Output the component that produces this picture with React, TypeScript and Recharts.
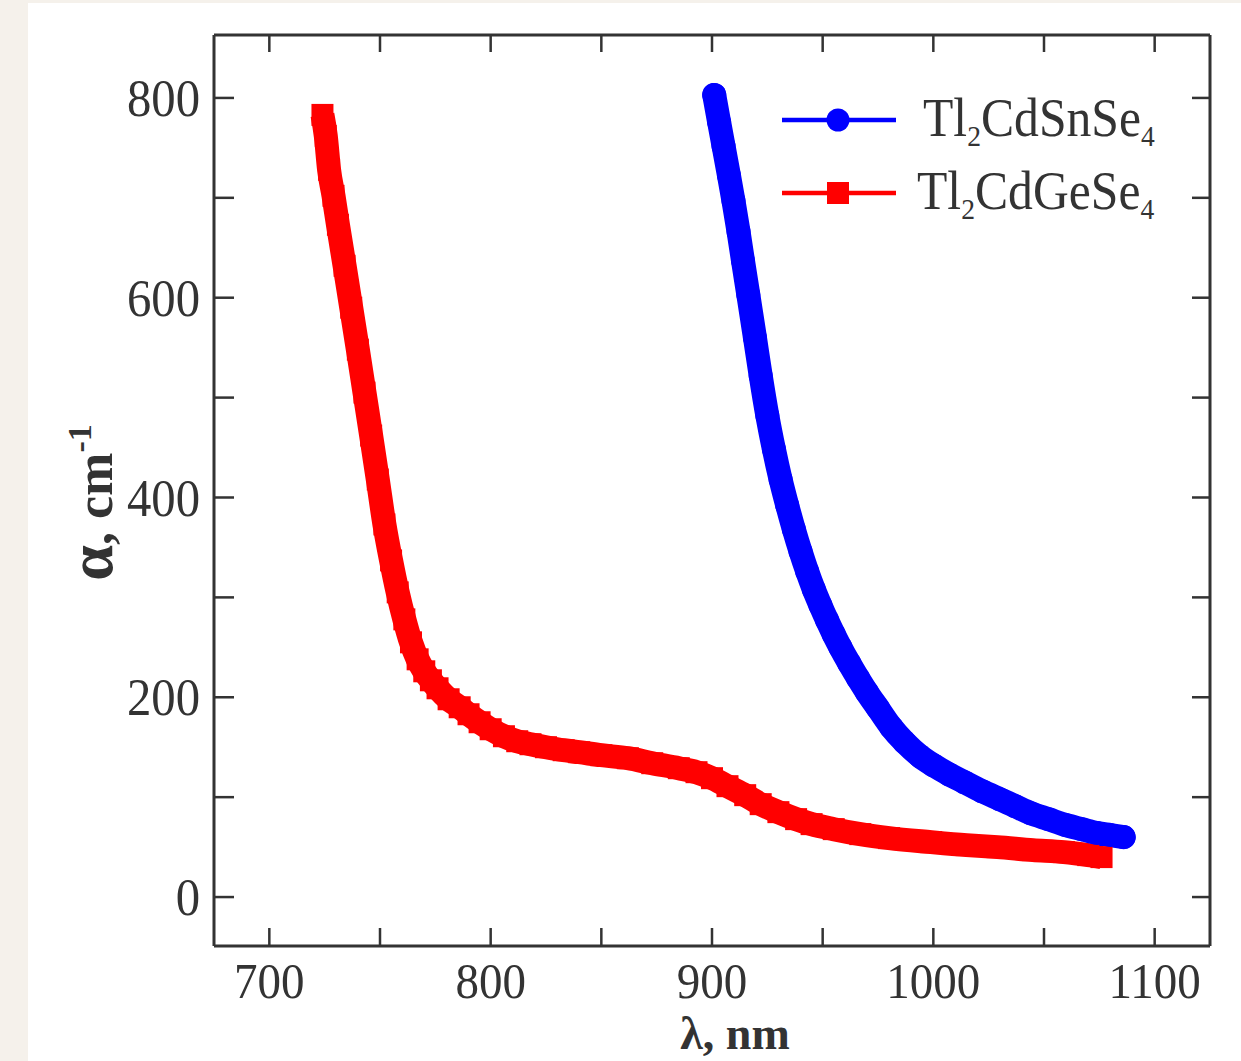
import { LineChart, Line, XAxis, YAxis, Legend } from 'recharts';

// Tl2CdGeSe4 (red squares)
const geLambda = [
  724, 725.5, 727, 729, 731, 734, 737, 740, 743, 746, 749, 752, 755, 758, 761, 764, 767, 770, 773, 776,
  781, 786, 790, 795, 800, 806, 812, 818, 825, 833, 840, 850, 862, 873, 885, 893, 900, 907, 915, 922,
  930, 938, 945, 955, 967, 980, 999, 1015, 1029, 1045, 1059, 1070, 1076,
];
const geAlpha = [
  783, 762, 728, 702, 673, 632, 590, 548, 505, 462, 418, 373, 337, 305, 278, 255, 238, 226, 217, 209,
  198, 190, 183, 175, 168, 161, 156, 153, 150, 147, 145, 142, 139, 134, 129, 125, 119, 111, 102, 93,
  85, 78, 73, 68, 63, 59, 55, 52, 50, 47, 45, 42, 40,
];

// Tl2CdSnSe4 (blue circles)
const snLambda = [
  901, 903.2, 905.2, 907.7, 909.7, 912, 914, 916.4, 919.4, 922, 925, 928, 931, 934, 937, 940, 943, 946,
  949, 952, 955, 958, 962, 966, 970, 975, 981, 987, 994, 1000, 1007, 1014, 1022, 1030, 1037, 1044, 1052,
  1060, 1067, 1074, 1080, 1086,
];
const snAlpha = [
  803, 776, 752, 722, 697, 666, 637, 603, 560, 522, 482, 448, 418, 392, 368, 346, 326, 308,
  292, 277, 263, 250, 234, 219, 205, 189, 170, 155, 141, 132, 123, 115, 106, 98, 91, 84, 78,
  72, 68, 64, 62, 60,
];

const xTicks = [700, 750, 800, 850, 900, 950, 1000, 1050, 1100];
const xLabels = [700, 800, 900, 1000, 1100];
const yTicks = [0, 100, 200, 300, 400, 500, 600, 700, 800];
const yLabels = [0, 200, 400, 600, 800];
const xDomain = [675, 1125];
const yDomain = [-49, 863];

const snName = 'Tl2CdSnSe4';
const geName = 'Tl2CdGeSe4';

const geData = geLambda.map((x, i) => ({ x, y: geAlpha[i] }));
const snData = snLambda.map((x, i) => ({ x, y: snAlpha[i] }));

const serif = '"Liberation Serif", "Times New Roman", serif';
const ink = '#333';
const RED = '#ff0000';
const BLUE = '#0000ff';

// digits become subscripts
function formula(name: string, subSize: number) {
  const parts = name.split(/(\d)/).filter(Boolean);
  let shifted = false;
  return parts.map((p, i) => {
    if (/\d/.test(p)) {
      shifted = true;
      return (
        <tspan key={i} fontSize={subSize} dy={10}>
          {p}
        </tspan>
      );
    }
    const dy = shifted ? -10 : 0;
    shifted = false;
    return (
      <tspan key={i} dy={dy}>
        {p}
      </tspan>
    );
  });
}

const BottomTick = ({ x, y, payload }: any) => (
  <g>
    <line x1={x} y1={y} x2={x} y2={y - 18} stroke={ink} strokeWidth={2.5} />
    {xLabels.includes(payload.value) && (
      <text
        transform={`translate(${x},${y + 52}) scale(0.94,1)`}
        textAnchor="middle"
        fontFamily={serif}
        fontSize={50}
        fill={ink}
      >
        {payload.value}
      </text>
    )}
  </g>
);

const TopTick = ({ x, y }: any) => (
  <line x1={x} y1={y} x2={x} y2={y + 17} stroke={ink} strokeWidth={2.5} />
);

const LeftTick = ({ x, y, payload }: any) => (
  <g>
    <line x1={x} y1={y} x2={x + 20} y2={y} stroke={ink} strokeWidth={2.5} />
    {yLabels.includes(payload.value) && (
      <text
        transform={`translate(${x - 14},${y}) scale(0.92,1)`}
        dy="0.34em"
        textAnchor="end"
        fontFamily={serif}
        fontSize={53}
        fill={ink}
      >
        {payload.value}
      </text>
    )}
  </g>
);

const RightTick = ({ x, y }: any) => (
  <line x1={x} y1={y} x2={x - 18} y2={y} stroke={ink} strokeWidth={2.5} />
);

const XTitle = (props: any) => {
  const { x, y, width } = props.viewBox;
  return (
    <text
      x={x + width / 2 + 23}
      y={y + 103}
      textAnchor="middle"
      fontFamily={serif}
      fontWeight="bold"
      fontSize={46}
      fill={ink}
    >
      λ, nm
    </text>
  );
};

const YTitle = (props: any) => {
  const { x, y, height } = props.viewBox;
  return (
    <text
      transform={`translate(${x - 101},${y + height / 2 + 12}) rotate(-90)`}
      textAnchor="middle"
      fontFamily={serif}
      fontWeight="bold"
      fontSize={52}
      fill={ink}
    >
      <tspan fontSize={64}>α</tspan>
      <tspan>, cm</tspan>
      <tspan fontSize={34} dy={-21}>
        -1
      </tspan>
    </text>
  );
};

const SquareDot = ({ cx, cy }: any) =>
  cx == null ? null : <rect x={cx - 11} y={cy - 11} width={22} height={22} fill={RED} />;

const CircleDot = ({ cx, cy }: any) =>
  cx == null ? null : <circle cx={cx} cy={cy} r={12} fill={BLUE} />;

const legendRows = [
  { name: snName, color: BLUE, shape: 'circle' },
  { name: geName, color: RED, shape: 'square' },
];

const LegendBox = () => (
  <svg width={420} height={170}>
    {legendRows.map((r, i) => {
      const cy = 50 + i * 73;
      return (
        <g key={r.name}>
          <line x1={12} x2={126} y1={cy} y2={cy} stroke={r.color} strokeWidth={4.5} />
          {r.shape === 'circle' ? (
            <circle cx={68} cy={cy} r={11.5} fill={r.color} />
          ) : (
            <rect x={57} y={cy - 11} width={22} height={22} fill={r.color} />
          )}
          <text
            transform={`translate(${i === 0 ? 153 : 147},${cy + 16}) scale(0.92,1)`}
            fontFamily={serif}
            fontSize={54}
            fill={ink}
          >
            {formula(r.name, 30)}
          </text>
        </g>
      );
    })}
  </svg>
);

export default function App() {
  return (
    <div
      style={{
        position: 'fixed',
        left: 0,
        top: 0,
        width: 1241,
        height: 1061,
        background: '#f5f1eb',
        overflow: 'hidden',
      }}
    >
      <div style={{ position: 'absolute', left: 28, top: 3, right: 0, bottom: 0, background: '#fff' }} />
      <div style={{ position: 'absolute', left: 0, top: 0 }}>
        <LineChart width={1241} height={1061} margin={{ top: 34, right: 30, bottom: 114, left: 213 }}>
          <XAxis
            xAxisId="bottom"
            dataKey="x"
            type="number"
            domain={xDomain}
            allowDataOverflow
            ticks={xTicks}
            interval={0}
            height={1}
            tickSize={0}
            tickMargin={0}
            tickLine={false}
            axisLine={{ stroke: ink, strokeWidth: 3 }}
            tick={<BottomTick />}
            label={<XTitle />}
          />
          <XAxis
            xAxisId="top"
            orientation="top"
            dataKey="x"
            type="number"
            domain={xDomain}
            allowDataOverflow
            ticks={xTicks}
            interval={0}
            height={1}
            tickSize={0}
            tickMargin={0}
            tickLine={false}
            axisLine={{ stroke: ink, strokeWidth: 3 }}
            tick={<TopTick />}
          />
          <YAxis
            yAxisId="left"
            type="number"
            domain={yDomain}
            allowDataOverflow
            ticks={yTicks}
            interval={0}
            width={1}
            tickSize={0}
            tickMargin={0}
            tickLine={false}
            axisLine={{ stroke: ink, strokeWidth: 3 }}
            tick={<LeftTick />}
            label={<YTitle />}
          />
          <YAxis
            yAxisId="right"
            orientation="right"
            type="number"
            domain={yDomain}
            allowDataOverflow
            ticks={yTicks}
            interval={0}
            width={1}
            tickSize={0}
            tickMargin={0}
            tickLine={false}
            axisLine={{ stroke: ink, strokeWidth: 3 }}
            tick={<RightTick />}
          />
          <Legend
            layout="horizontal"
            verticalAlign="middle"
            align="center"
            wrapperStyle={{ left: 770, top: 70, width: 420, height: 170 }}
            content={<LegendBox />}
          />
          <Line
            xAxisId="bottom"
            yAxisId="left"
            data={geData}
            dataKey="y"
            name={geName}
            type="monotone"
            stroke={RED}
            strokeWidth={24}
            strokeLinejoin="round"
            dot={<SquareDot />}
            activeDot={false}
            isAnimationActive={false}
          />
          <Line
            xAxisId="bottom"
            yAxisId="left"
            data={snData}
            dataKey="y"
            name={snName}
            type="monotone"
            stroke={BLUE}
            strokeWidth={24}
            strokeLinecap="round"
            strokeLinejoin="round"
            dot={<CircleDot />}
            activeDot={false}
            isAnimationActive={false}
          />
        </LineChart>
      </div>
    </div>
  );
}
